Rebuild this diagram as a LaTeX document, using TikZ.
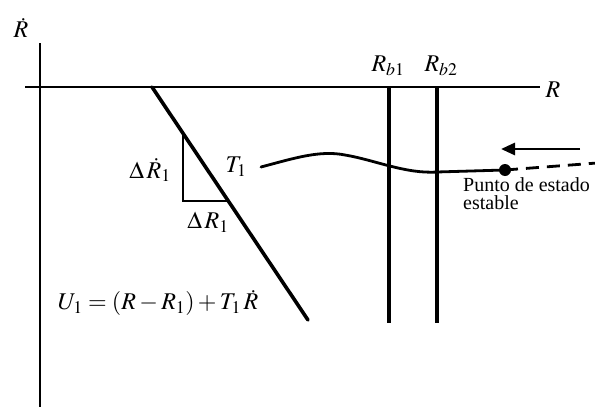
\documentclass[tikz,border=0pt]{standalone}
\usepackage{mathptmx}
\usepackage[no-math]{fontspec}
\setmainfont{Liberation Serif}
\usetikzlibrary{arrows.meta}
\tikzset{
  axis/.style={line width=1.6pt},
  thickline/.style={line width=3.6pt},
  vline/.style={line width=3.2pt},
  curve/.style={line width=2.8pt},
  lab/.style={inner sep=0pt,font=\fontsize{24}{28}\selectfont},
  txt/.style={inner sep=0pt,font=\fontsize{20}{22}\selectfont,anchor=west},
}
\begin{document}
\begin{tikzpicture}[x=1pt,y=-1pt]
\useasboundingbox (0,0) rectangle (595,407);
% axes
\coordinate (yb) at (40,409);
\coordinate (yt) at (40,43);
\coordinate (xl) at (25,87);
\coordinate (xr) at (540,87);
\draw[axis] (yb) -- (yt);
\draw[axis] (xl) -- (xr);
\node[lab] (Rdot) at (21,28) {$\dot{R}$};
\node[lab] (Rx) at (553,90) {$R$};
% diagonal line
\coordinate (d1) at (152,87);
\coordinate (d2) at (308,320);
\draw[thickline,line cap=round] (d1) -- (d2);
% triangle
\coordinate (t1) at (183,133);
\coordinate (t2) at (183,201);
\coordinate (t3) at (228,201);
\draw[line width=2pt] (t1) -- (t2) -- (t3);
\node[lab] (dRdot) at (150,170) {$\Delta\,\dot{R}_1$};
\node[lab] (T1) at (236,167) {$T_1$};
\node[lab] (dR) at (208,222) {$\Delta\,R_1$};
\node[lab] (U1) at (158,303) {$U_1=(R-R_1)+T_1\,\dot{R}$};
% vertical lines
\coordinate (b1t) at (389,87);
\coordinate (b1b) at (389,323);
\coordinate (b2t) at (437,87);
\coordinate (b2b) at (437,323);
\draw[vline] (b1t) -- (b1b);
\draw[vline] (b2t) -- (b2b);
\node[lab] (Rb1) at (388,66) {$R_{b1}$};
\node[lab] (Rb2) at (441,66) {$R_{b2}$};
% curve
\node[circle,fill,inner sep=0pt,minimum size=12pt] (dot) at (505,170) {};
\coordinate (c0) at (261,167);
\coordinate (cm) at (345,155);
\coordinate (c2) at (437,172);
\draw[curve,line cap=round] (c0) .. controls (295,158) and (320,150) .. (cm)
  .. controls (375,160) and (405,174) .. (c2) -- (dot.center);
\coordinate (dashend) at (597,163);
\draw[curve,dashed,dash pattern=on 13pt off 8pt] (dot.center) -- (dashend);
% arrow
\coordinate (a1) at (580,149);
\coordinate (a2) at (501,149);
\draw[curve,-{Triangle[length=14pt,width=12pt]}] (a1) -- (a2);
% text
\node[txt] (p1) at (463,185) {Punto de estado};
\node[txt] (p2) at (463,203) {estable};
\end{tikzpicture}
\end{document}
